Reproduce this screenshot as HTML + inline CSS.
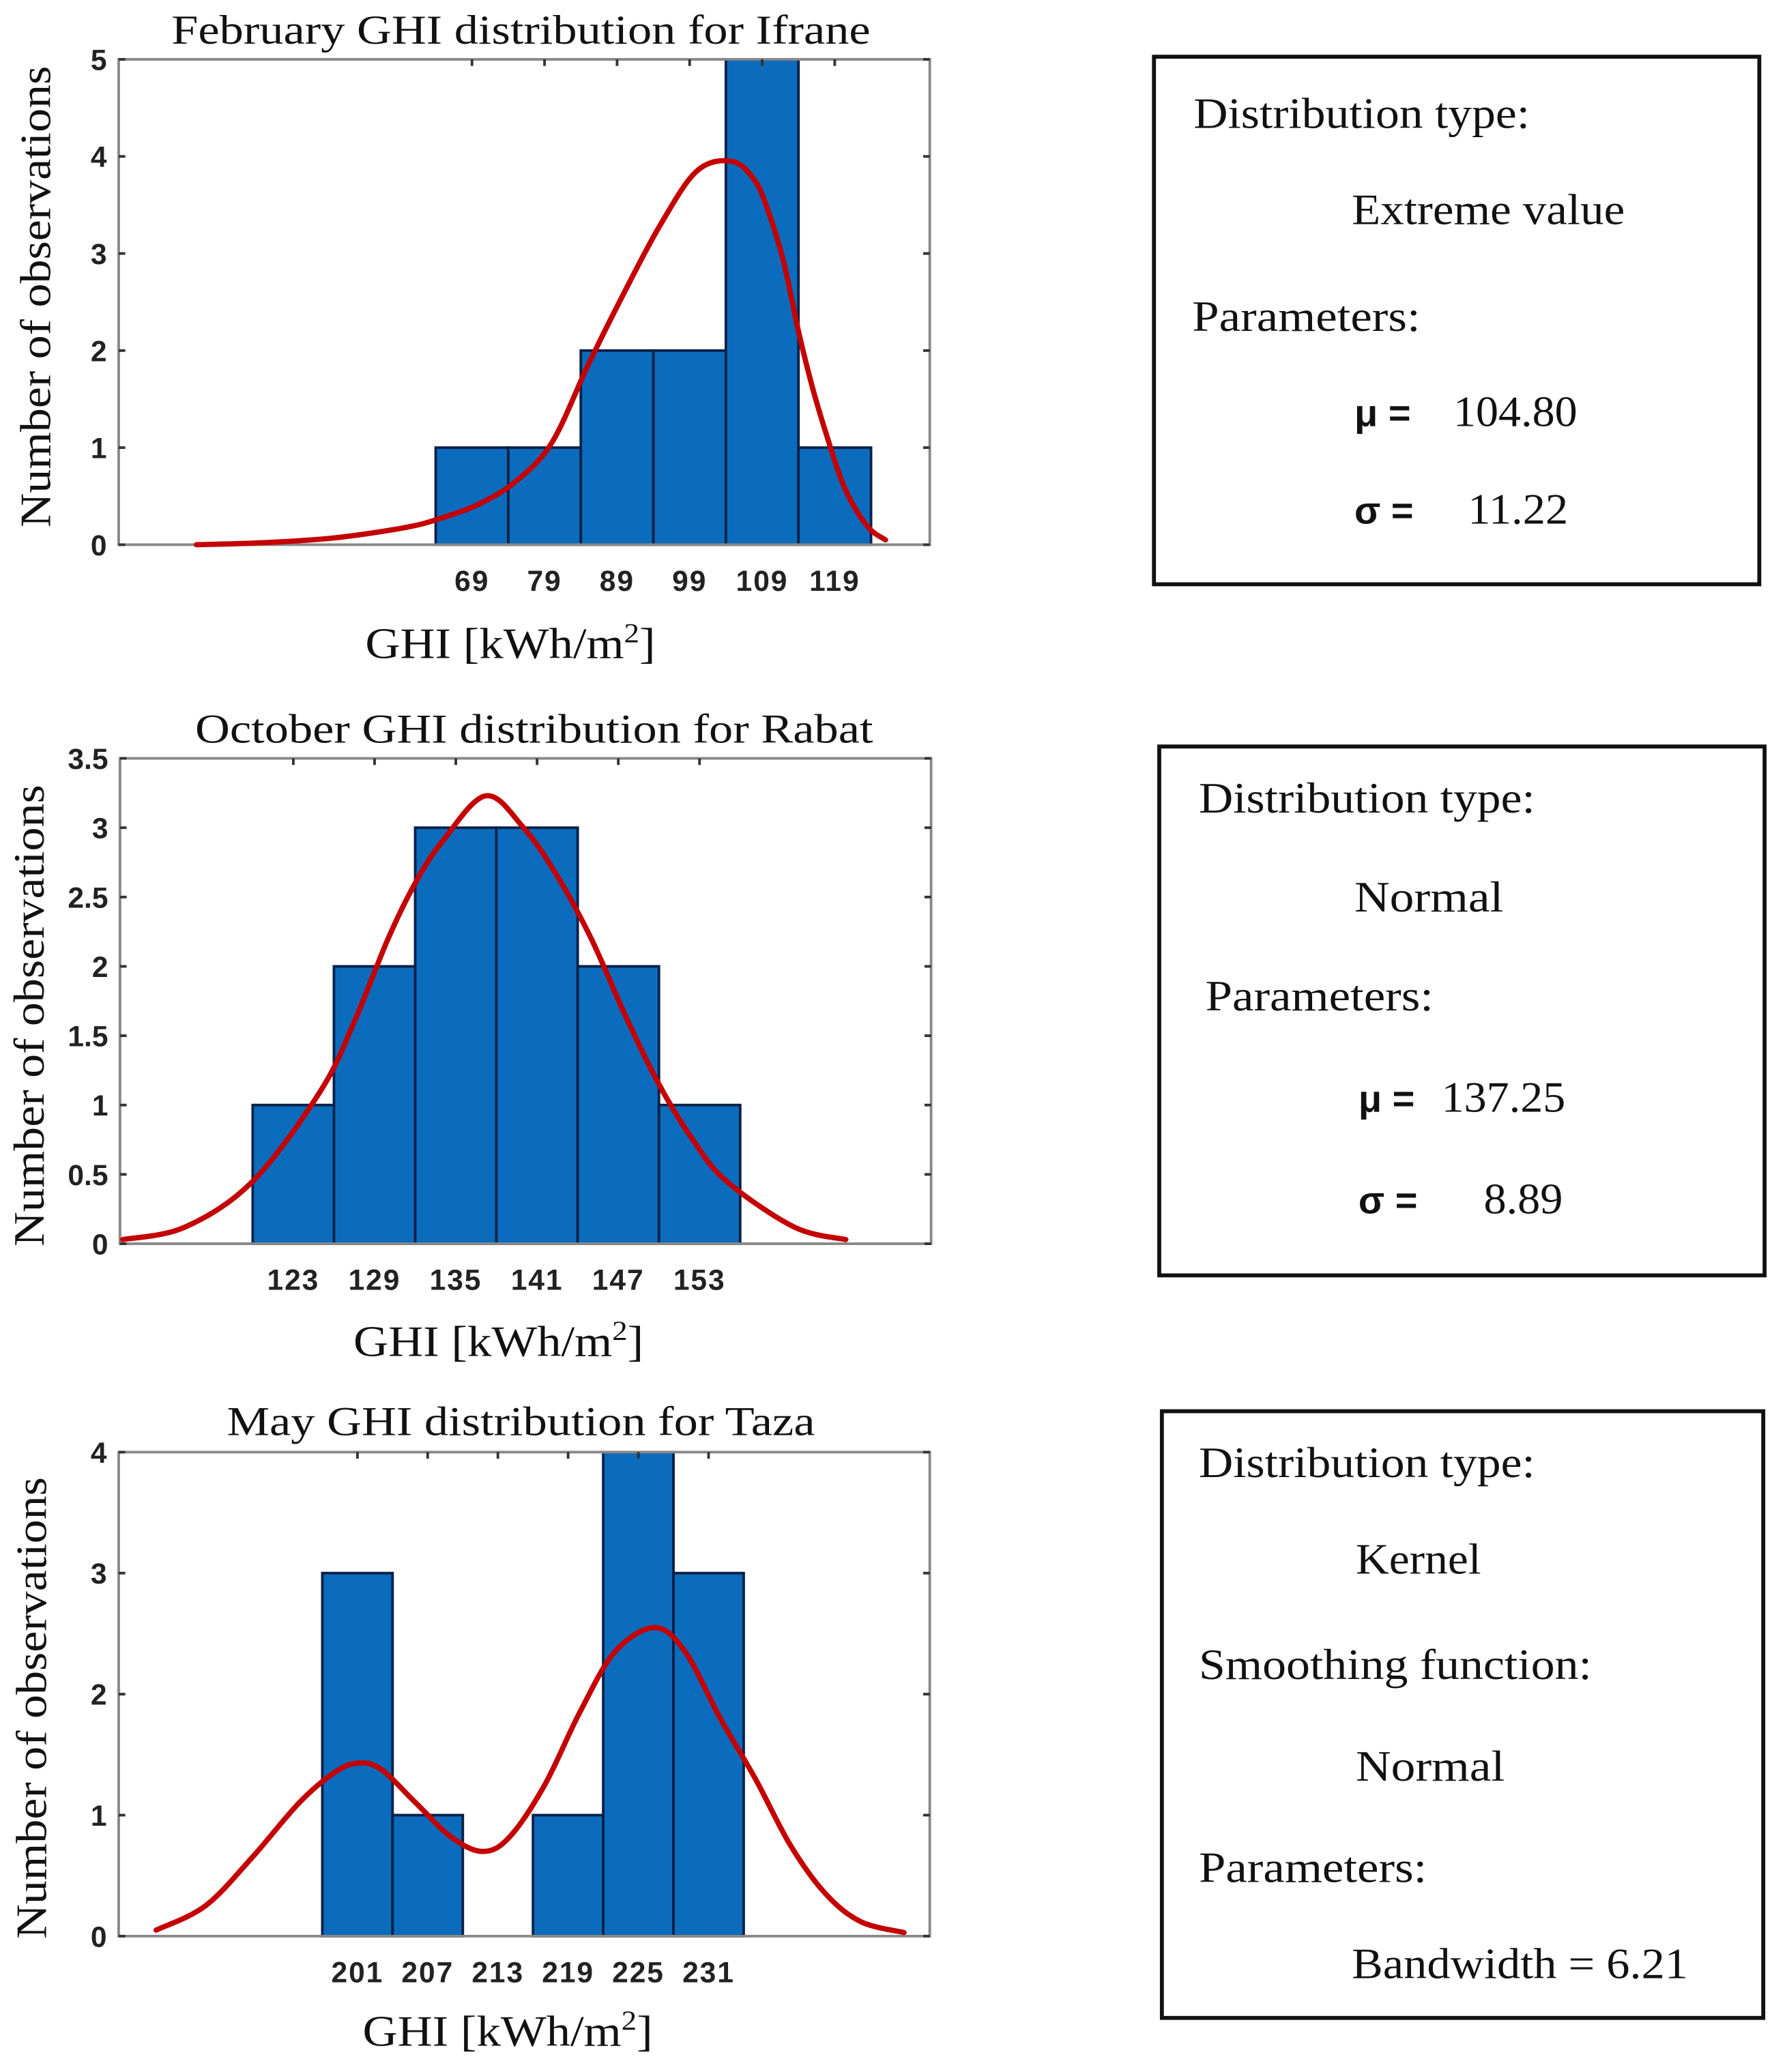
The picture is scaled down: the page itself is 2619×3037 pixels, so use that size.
<!DOCTYPE html>
<html><head><meta charset="utf-8"><style>
html,body{margin:0;padding:0;background:#fff;}
svg{display:block;}
.serif{font-family:"Liberation Serif",serif;fill:#111;}
.tick{font-family:"Liberation Sans",sans-serif;font-weight:bold;fill:#222;font-size:22px;}
.sym{font-family:"Liberation Sans",sans-serif;font-weight:bold;fill:#111;}
</style></head><body>
<svg id="fig" width="2619" height="3037" viewBox="0 0 1355 1571" preserveAspectRatio="none" xmlns="http://www.w3.org/2000/svg"></svg>
<script>
// ---- Chart 1 data: February Ifrane ----
const c1BinEdges = [64,74,84,94,104,114,124];
const c1Counts = [1,1,2,2,5,1];
const c1XTicks = [69,79,89,99,109,119];
const c1YTicks = [0,1,2,3,4,5];
const c1CurveX = [31,40,50,60,65,70,75,80,85,90,95,100,104.8,108,110,112,114,116,118,120,122,124,126];
const c1CurveY = [0,0.02,0.07,0.18,0.28,0.42,0.65,1.05,1.85,2.6,3.3,3.85,3.95,3.75,3.4,2.9,2.2,1.6,1.1,0.65,0.35,0.15,0.05];
// ---- Chart 2 data: October Rabat ----
const c2BinEdges = [120,126,132,138,144,150,156];
const c2Counts = [1,2,3,3,2,1];
const c2XTicks = [123,129,135,141,147,153];
const c2YTicks = [0,0.5,1,1.5,2,2.5,3,3.5];
const c2CurveX = [110.4,115,120,125,127.5,130,132,134,137.2,140,142.5,145,147.5,150,152.5,155,160,163.8];
const c2CurveY = [0.03,0.12,0.45,1.1,1.6,2.2,2.6,2.9,3.23,3.0,2.65,2.2,1.65,1.15,0.75,0.45,0.12,0.03];
// ---- Chart 3 data: May Taza ----
const c3BinEdges = [198,204,210,216,222,228,234];
const c3Counts = [3,1,0,1,4,3];
const c3XTicks = [201,207,213,219,225,231];
const c3YTicks = [0,1,2,3,4];
const c3CurveX = [183.8,188,192,196,199,201,203,206,209,211.7,214,217,220,223,226.4,229,232,235,238,241,244,247.7];
const c3CurveY = [0.05,0.25,0.65,1.1,1.35,1.43,1.38,1.1,0.82,0.7,0.82,1.25,1.85,2.35,2.55,2.35,1.8,1.3,0.75,0.35,0.12,0.03];

const NS="http://www.w3.org/2000/svg";
const svg=document.getElementById('fig');
function mk(tag,attrs,parent){const e=document.createElementNS(NS,tag);for(const k in attrs)e.setAttribute(k,attrs[k]);(parent||svg).appendChild(e);return e;}
function txt(s,attrs,parent){const e=mk('text',attrs,parent);e.textContent=s;return e;}
function smooth(pts){
  let d='M'+pts[0][0].toFixed(2)+','+pts[0][1].toFixed(2);
  for(let i=0;i<pts.length-1;i++){
    const p0=pts[Math.max(0,i-1)],p1=pts[i],p2=pts[i+1],p3=pts[Math.min(pts.length-1,i+2)];
    const c1x=p1[0]+(p2[0]-p0[0])/6,c1y=p1[1]+(p2[1]-p0[1])/6;
    const c2x=p2[0]-(p3[0]-p1[0])/6,c2y=p2[1]-(p3[1]-p1[1])/6;
    d+=' C'+c1x.toFixed(2)+','+c1y.toFixed(2)+' '+c2x.toFixed(2)+','+c2y.toFixed(2)+' '+p2[0].toFixed(2)+','+p2[1].toFixed(2);
  }
  return d;
}

function chart(cfg){
  const g=mk('g',{});
  
  
  const {L,R,T,B,xmin,xmax,ymax}=cfg;
  const xs=v=>L+(v-xmin)/(xmax-xmin)*(R-L);
  const ys=v=>B-v/ymax*(B-T);
  for(let i=0;i<cfg.counts.length;i++){
    if(cfg.counts[i]<=0)continue;
    const r=mk('rect',{x:xs(cfg.edges[i]),y:ys(cfg.counts[i]),width:xs(cfg.edges[i+1])-xs(cfg.edges[i]),height:B-ys(cfg.counts[i]),fill:'#0b6cbd',stroke:'#0a2148','stroke-width':2},g);
    
    
  }
  const box=mk('rect',{x:L,y:T,width:R-L,height:B-T,fill:'none',stroke:'#888','stroke-width':2},g);
  
  
  cfg.yticks.forEach(v=>{
    mk('line',{x1:L,x2:L+5,y1:ys(v),y2:ys(v),stroke:'#333','stroke-width':2},g);
    mk('line',{x1:R-5,x2:R,y1:ys(v),y2:ys(v),stroke:'#333','stroke-width':2},g);
    const t=txt(String(v),{x:L-9,y:ys(v)+8,'text-anchor':'end',class:'tick'},g);
    
    
  });
  cfg.ticks.forEach(v=>{
    mk('line',{x1:xs(v),x2:xs(v),y1:T,y2:T+5,stroke:'#333','stroke-width':2},g);
    const t=txt(String(v),{x:xs(v),y:B+35,'text-anchor':'middle',class:'tick','letter-spacing':'1'},g);
    
    
  });
  const pts=cfg.cx.map((x,i)=>[xs(x),ys(cfg.cy[i])]);
  const p=mk('path',{d:smooth(pts),fill:'none',stroke:'#c40000','stroke-width':4,'stroke-linejoin':'round','stroke-linecap':'round'},g);
  
  
  const ti=txt(cfg.title,{x:cfg.titleX,y:cfg.titleY,'text-anchor':'middle',class:'serif','font-size':31,textLength:cfg.titleW,lengthAdjust:'spacingAndGlyphs'},g);
  
  
  const xl=mk('text',{x:cfg.xlX,y:cfg.xlY,'text-anchor':'middle',class:'serif','font-size':33,textLength:220,lengthAdjust:'spacingAndGlyphs'},g);
  xl.innerHTML='GHI [kWh/m<tspan dy="-12" font-size="21">2</tspan><tspan dy="12">]</tspan>';
  
  
  const yl=txt('Number of observations',{x:0,y:0,'text-anchor':'middle',class:'serif','font-size':33,textLength:350,lengthAdjust:'spacingAndGlyphs',transform:'translate('+cfg.ylX+','+cfg.ylY+') rotate(-90)'},g);
  
  
}

chart({name:'chart-february-ifrane',L:90,R:705,T:45,B:413,xmin:20.3,xmax:132.1,ymax:5,edges:c1BinEdges,counts:c1Counts,ticks:c1XTicks,yticks:c1YTicks,cx:c1CurveX,cy:c1CurveY,title:'February GHI distribution for Ifrane',titleW:530,titleX:395,titleY:33,xlX:387,xlY:499,ylX:38,ylY:225});
chart({name:'chart-october-rabat',L:91,R:706,T:575,B:943,xmin:110.2,xmax:170.1,ymax:3.5,edges:c2BinEdges,counts:c2Counts,ticks:c2XTicks,yticks:c2YTicks,cx:c2CurveX,cy:c2CurveY,title:'October GHI distribution for Rabat',titleW:514,titleX:405,titleY:563,xlX:378,xlY:1028,ylX:33,ylY:770});
chart({name:'chart-may-taza',L:90,R:705,T:1101,B:1468,xmin:180.6,xmax:249.9,ymax:4,edges:c3BinEdges,counts:c3Counts,ticks:c3XTicks,yticks:c3YTicks,cx:c3CurveX,cy:c3CurveY,title:'May GHI distribution for Taza',titleW:446,titleX:395,titleY:1088,xlX:385,xlY:1551,ylX:35,ylY:1295});

function infoBox(name,x,y,w,h,items){
  const g=mk('g',{});
  
  
  mk('rect',{x:x,y:y,width:w,height:h,fill:'#fff',stroke:'#111','stroke-width':3},g);
  items.forEach(it=>{
    if(it.sym){
      const s=txt(it.sym,{x:it.x,y:it.y,class:'sym','font-size':29},g);
      
      
      const v=txt(it.val,{x:it.vx,y:it.y,class:'serif','font-size':33,textLength:it.vw,lengthAdjust:'spacingAndGlyphs'},g);
      
      
    }else{
      const t=txt(it.t,{x:it.x,y:it.y,class:'serif','font-size':33,textLength:it.w,lengthAdjust:'spacingAndGlyphs'},g);
      
      
    }
  });
}
infoBox('info-box-ifrane',875,43,459,400,[
  {t:'Distribution type:',x:905,y:97,w:255},{t:'Extreme value',x:1025,y:170,w:207},{t:'Parameters:',x:904,y:251,w:173},
  {sym:'μ =',x:1027,y:323,val:'104.80',vx:1102,vw:94},{sym:'σ =',x:1027,y:397,val:'11.22',vx:1113,vw:76}]);
infoBox('info-box-rabat',879,566,459,401,[
  {t:'Distribution type:',x:909,y:616,w:255},{t:'Normal',x:1027,y:691,w:113},{t:'Parameters:',x:914,y:766,w:173},
  {sym:'μ =',x:1030,y:843,val:'137.25',vx:1093,vw:94},{sym:'σ =',x:1030,y:920,val:'8.89',vx:1125,vw:60}]);
infoBox('info-box-taza',881,1070,456,460,[
  {t:'Distribution type:',x:909,y:1120,w:255},{t:'Kernel',x:1028,y:1193,w:95},{t:'Smoothing function:',x:909,y:1273,w:298},
  {t:'Normal',x:1028,y:1350,w:113},{t:'Parameters:',x:909,y:1427,w:173},{t:'Bandwidth = 6.21',x:1025,y:1500,w:255}]);
</script>
</body></html>
